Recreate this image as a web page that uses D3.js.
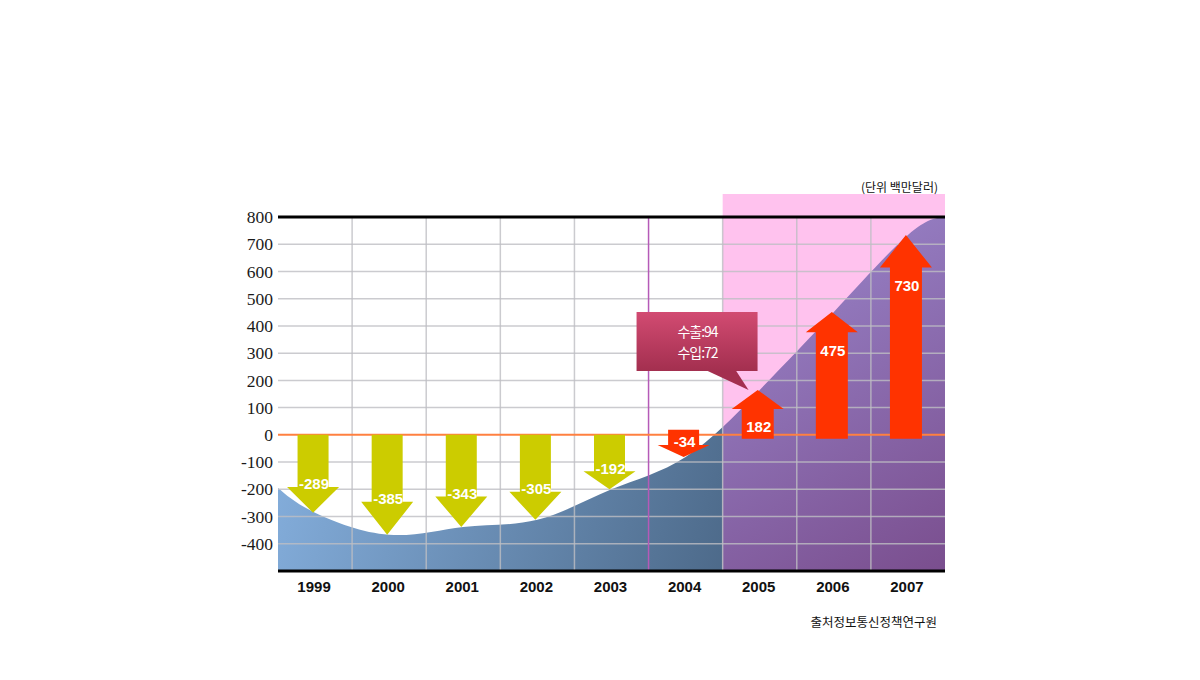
<!DOCTYPE html>
<html><head><meta charset="utf-8">
<script src="https://cdn.jsdelivr.net/npm/d3@7/dist/d3.min.js"></script>
<style>html,body{margin:0;padding:0;background:#fff;}</style>
</head><body>
<svg id="chart" width="1200" height="680"></svg>
<script>
// ---- data ----
const years = ["1999","2000","2001","2002","2003","2004","2005","2006","2007"];
const balance = [-289, -385, -343, -305, -192, -34, 182, 475, 730];   // labels on arrows
const trend = [-286, -367, -338, -312, -200, -81, 165, 451, 734];     // curve / arrow tips
const trendStart = -195, trendEnd = 800;
const yTicks = [-400,-300,-200,-100,0,100,200,300,400,500,600,700,800];
const calloutLines = ["수출:94", "수입:72"];
const unitLabel = "(단위 백만달러)";
const sourceLabel = "출처정보통신정책연구원";
const forecastFrom = "2005";

// ---- layout ----
const svg = d3.select("#chart");
const L = 278, R = 945, T = 217, B = 571;
const x = d3.scaleBand().domain(years).range([L, R]).padding(0);
const y = d3.scaleLinear().domain([-500, 800]).range([B, T]);
const bw = x.bandwidth();
const cx = d => x(d) + bw / 2;

const defs = svg.append("defs");
const g1 = defs.append("linearGradient").attr("id","blueG").attr("gradientUnits","userSpaceOnUse")
  .attr("x1",L).attr("y1",440).attr("x2",x(forecastFrom)).attr("y2",B);
g1.append("stop").attr("offset","0").attr("stop-color","#84aedc");
g1.append("stop").attr("offset","1").attr("stop-color","#4d6a8a");
const g2 = defs.append("linearGradient").attr("id","purpG").attr("gradientUnits","userSpaceOnUse")
  .attr("x1",x(forecastFrom)).attr("y1",T).attr("x2",R).attr("y2",B);
g2.append("stop").attr("offset","0").attr("stop-color","#9c8ad0");
g2.append("stop").attr("offset","1").attr("stop-color","#7a4e8e");
const g3 = defs.append("linearGradient").attr("id","callG").attr("x1",0).attr("y1",0).attr("x2",0).attr("y2",1);
g3.append("stop").attr("offset","0").attr("stop-color","#d24b72");
g3.append("stop").attr("offset","1").attr("stop-color","#a32f4f");
defs.append("clipPath").attr("id","clipL").append("rect")
  .attr("x",L).attr("y",T).attr("width",x(forecastFrom)-L).attr("height",B-T);
defs.append("clipPath").attr("id","clipR").append("rect")
  .attr("x",x(forecastFrom)).attr("y",T-30).attr("width",R-x(forecastFrom)).attr("height",B-T+30);

// pink forecast zone
svg.append("rect").attr("x",x(forecastFrom)).attr("y",T-23)
  .attr("width",R-x(forecastFrom)).attr("height",B-T+23).attr("fill","#ffc2ee");

// area
const pts = [{px:L, v:trendStart}].concat(years.map((yr,i)=>({px:cx(yr), v:trend[i]}))).concat([{px:R, v:trendEnd}]);
const area = d3.area().x(d=>d.px).y0(B).y1(d=>y(d.v)).curve(d3.curveNatural);
svg.append("path").datum(pts).attr("d",area).attr("fill","url(#blueG)").attr("clip-path","url(#clipL)");
svg.append("path").datum(pts).attr("d",area).attr("fill","url(#purpG)").attr("clip-path","url(#clipR)");

// gridlines
const grid = svg.append("g");
yTicks.filter(t=>t!==0 && t!==800).forEach(t=>{
  grid.append("line").attr("x1",L).attr("x2",R).attr("y1",y(t)).attr("y2",y(t))
    .attr("stroke","rgba(190,190,195,0.8)").attr("stroke-width",1.5);
});
years.slice(1).forEach(yr=>{
  grid.append("line").attr("x1",x(yr)).attr("x2",x(yr)).attr("y1",T).attr("y2",B)
    .attr("stroke", yr==="2004" ? "#b55ab8" : "rgba(190,190,195,0.8)").attr("stroke-width",1.5);
});
// zero line
svg.append("line").attr("x1",L).attr("x2",R).attr("y1",y(0)).attr("y2",y(0))
  .attr("stroke","#ff8040").attr("stroke-width",2);
// top & bottom lines
svg.append("line").attr("x1",L).attr("x2",R).attr("y1",y(800)).attr("y2",y(800)).attr("stroke","#000").attr("stroke-width",3);
svg.append("line").attr("x1",L).attr("x2",R).attr("y1",B).attr("y2",B).attr("stroke","#000").attr("stroke-width",3);

// y labels
svg.append("g").selectAll("text").data(yTicks).join("text")
  .attr("x",L-5).attr("y",d=>y(d)).attr("dy","0.35em").attr("text-anchor","end")
  .attr("font-family","'Liberation Serif','Times New Roman',serif").attr("font-size",17.5).attr("fill","#1a1a1a")
  .text(d=>d);

// x labels
svg.append("g").selectAll("text").data(years).join("text")
  .attr("x",d=>cx(d)-1).attr("y",592).attr("text-anchor","middle")
  .attr("font-family","'Liberation Sans',Arial,sans-serif").attr("font-weight","bold").attr("font-size",15).attr("fill","#111")
  .text(d=>d);

// arrows
const ag = svg.append("g");
years.forEach((yr,i)=>{
  const c = cx(yr) - 2;
  const red = +yr >= 2004;
  const col = red ? "#ff3300" : "#cccc00";
  const up = balance[i] > 0;
  const y0 = up ? y(0)+4 : (red ? y(0)-5 : y(0));
  const tip = y(trend[i]);
  const len = Math.abs(tip - y0);
  const head = up ? Math.max(19, Math.min(33, len*0.16)) : Math.max(12, Math.min(33, len*0.33));
  const sw = up ? 16 : 15.5, hw = 26;
  const hb = up ? tip + head : tip - head;
  const p = d3.path();
  p.moveTo(c-sw, y0); p.lineTo(c-sw, hb); p.lineTo(c-hw, hb); p.lineTo(c, tip);
  p.lineTo(c+hw, hb); p.lineTo(c+sw, hb); p.lineTo(c+sw, y0); p.closePath();
  ag.append("path").attr("d",p.toString()).attr("fill",col);
  ag.append("text").attr("x",c+1).attr("y", up ? hb+18 : hb-3).attr("dy","0.35em")
    .attr("text-anchor","middle").attr("font-family","'Liberation Sans',Arial,sans-serif")
    .attr("font-weight","bold").attr("font-size",15).attr("fill","#fff").text(balance[i]);
});

// callout
const bx = x("2004") - 12, by = 312, bwid = 121, bh = 59;
svg.append("path").attr("d",`M${bx+69},${by+bh-1} L${bx+99},${by+bh-1} L${bx+112},${by+bh+19} Z`).attr("fill","#a32f4f");
svg.append("rect").attr("x",bx).attr("y",by).attr("width",bwid).attr("height",bh).attr("fill","url(#callG)");
svg.append("g").selectAll("text").data(calloutLines).join("text")
  .attr("x",bx+61).attr("y",(d,i)=>by+20+i*21).attr("dy","0.35em").attr("text-anchor","middle")
  .attr("font-family","'Noto Sans CJK KR',sans-serif").attr("font-size",14).attr("fill","#fff")
  .attr("letter-spacing",-1).text(d=>d);

// unit & source
svg.append("text").attr("x",938).attr("y",192).attr("text-anchor","end")
  .attr("font-family","'Noto Sans CJK KR',sans-serif").attr("font-size",12).attr("fill","#111").text(unitLabel);
svg.append("text").attr("x",937).attr("y",627).attr("text-anchor","end")
  .attr("font-family","'Noto Sans CJK KR',sans-serif").attr("font-size",12.5).attr("fill","#111").text(sourceLabel);
</script>
</body></html>
